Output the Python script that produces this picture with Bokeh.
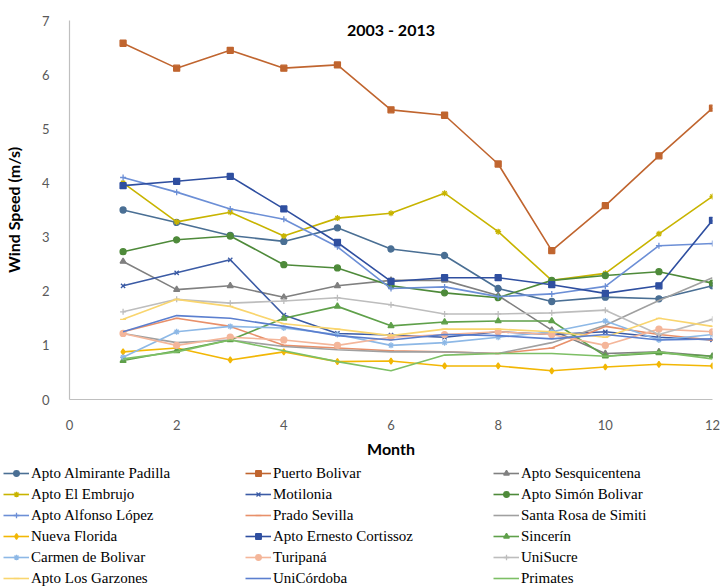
from bokeh.plotting import figure
from bokeh.models import Legend, LegendItem, Label, FixedTicker, ColumnDataSource
from bokeh.layouts import column
from bokeh.embed import file_html
from bokeh.resources import INLINE

months = [1, 2, 3, 4, 5, 6, 7, 8, 9, 10, 11, 12]

almirante = [3.50, 3.27, 3.03, 2.92, 3.17, 2.78, 2.66, 2.05, 1.81, 1.89, 1.86, 2.10]
puerto = [6.58, 6.12, 6.45, 6.12, 6.18, 5.35, 5.25, 4.35, 2.75, 3.58, 4.50, 5.38]
sesqui = [2.55, 2.03, 2.10, 1.89, 2.10, 2.20, 2.20, 1.92, 1.28, 0.85, 0.88, 0.80]
embrujo = [4.00, 3.28, 3.46, 3.02, 3.35, 3.44, 3.81, 3.10, 2.20, 2.33, 3.06, 3.75]
motilonia = [2.10, 2.34, 2.58, 1.56, 1.22, 1.19, 1.15, 1.25, 1.20, 1.25, 1.15, 1.10]
simon = [2.73, 2.95, 3.02, 2.49, 2.43, 2.10, 1.97, 1.88, 2.20, 2.29, 2.36, 2.15]
alfonso = [4.10, 3.83, 3.52, 3.33, 2.82, 2.05, 2.08, 1.90, 1.95, 2.09, 2.84, 2.88]
prado = [1.25, 1.50, 1.35, 1.00, 0.95, 0.90, 0.88, 0.85, 0.95, 1.35, 1.20, 1.10]
santarosa = [1.22, 1.05, 1.10, 0.98, 0.92, 0.88, 0.88, 0.85, 1.05, 1.37, 1.83, 2.25]
nuevaflorida = [0.88, 0.95, 0.73, 0.88, 0.70, 0.71, 0.62, 0.62, 0.53, 0.60, 0.65, 0.62]
ernesto = [3.95, 4.03, 4.12, 3.52, 2.90, 2.18, 2.25, 2.25, 2.12, 1.96, 2.10, 3.31]
sincerin = [0.72, 0.90, 1.10, 1.50, 1.72, 1.36, 1.43, 1.45, 1.45, 0.80, 0.86, 0.80]
carmen = [0.78, 1.25, 1.35, 1.32, 1.20, 1.00, 1.05, 1.15, 1.25, 1.45, 1.10, 1.20]
turipana = [1.22, 1.00, 1.15, 1.10, 1.00, 1.15, 1.20, 1.25, 1.20, 1.00, 1.30, 1.25]
unisucre = [1.62, 1.85, 1.78, 1.82, 1.88, 1.75, 1.58, 1.58, 1.60, 1.65, 1.20, 1.48]
garzones = [1.48, 1.85, 1.72, 1.40, 1.30, 1.18, 1.30, 1.30, 1.25, 1.15, 1.50, 1.35]
unicordoba = [1.25, 1.55, 1.50, 1.35, 1.18, 1.10, 1.20, 1.18, 1.12, 1.20, 1.10, 1.12]
primates = [0.75, 0.88, 1.10, 0.90, 0.70, 0.53, 0.82, 0.85, 0.85, 0.80, 0.88, 0.75]

names = ["Apto Almirante Padilla", "Puerto Bolivar", "Apto Sesquicentena",
         "Apto El Embrujo", "Motilonia", "Apto Simón Bolivar",
         "Apto Alfonso López", "Prado Sevilla", "Santa Rosa de Simiti",
         "Nueva Florida", "Apto Ernesto Cortissoz", "Sincerín",
         "Carmen de Bolivar", "Turipaná", "UniSucre",
         "Apto Los Garzones", "UniCórdoba", "Primates"]
series = [almirante, puerto, sesqui, embrujo, motilonia, simon, alfonso, prado,
          santarosa, nuevaflorida, ernesto, sincerin, carmen, turipana, unisucre,
          garzones, unicordoba, primates]

colors = ["#4A6F94", "#C0652F", "#808080", "#C8B400", "#3B5BA5", "#4E8A3A",
          "#6C8FD6", "#E8906A", "#A0A0A0", "#F2B705", "#2F4FA0", "#5FA04A",
          "#8DB8E6", "#F4B69A", "#BDBDBD", "#F9D56E", "#5B7FCF", "#7DBF65"]
markers = ["circle", "square", "triangle", "asterisk", "x", "circle",
           "cross", "dash", None, "diamond", "square", "triangle",
           "asterisk", "circle", "cross", "dash", None, None]

p = figure(width=724, height=460, output_backend="svg", toolbar_location=None,
           x_range=(0, 12), y_range=(0, 7),
           min_border_left=63, min_border_right=12, min_border_top=20,
           min_border_bottom=58)
p.frame_align = False
p.outline_line_color = None
p.xgrid.grid_line_color = None
p.ygrid.grid_line_color = None
p.background_fill_color = "white"

# legend strip below the chart (swatch renderers sit outside its visible range)
lg_fig = figure(width=724, height=128, output_backend="svg", toolbar_location=None,
                x_range=(0, 1), y_range=(0, 1), x_axis_location=None,
                y_axis_location=None, min_border=0)
lg_fig.frame_align = False
lg_fig.outline_line_color = None
lg_fig.xgrid.grid_line_color = None
lg_fig.ygrid.grid_line_color = None

items = []
for name, vals, col, mk in zip(names, series, colors, markers):
    src = ColumnDataSource(dict(x=months, y=vals))
    p.line("x", "y", source=src, line_color=col, line_width=1.6)
    if mk is not None:
        p.scatter("x", "y", source=src, marker=mk, size=6,
                  line_color=col, fill_color=col, line_width=1.3)
    key_src = ColumnDataSource(dict(x=[-5.0, -4.0], y=[-5.0, -4.0]))
    rs = [lg_fig.line("x", "y", source=key_src, line_color=col, line_width=1.6)]
    if mk is not None:
        rs.append(lg_fig.scatter("x", "y", source=key_src, marker=mk, size=6,
                                 line_color=col, fill_color=col, line_width=1.3))
    items.append(LegendItem(label=name, renderers=rs))

for ax in (p.xaxis[0], p.yaxis[0]):
    ax.axis_line_color = "#BFBFBF"
    ax.axis_line_width = 1.2
    ax.major_tick_line_color = None
    ax.minor_tick_line_color = None
    ax.major_label_text_color = "#595959"
    ax.major_label_text_font = "Lato"
    ax.major_label_text_font_size = "13px"
    ax.axis_label_text_font = "Lato"
    ax.axis_label_text_font_style = "bold"
    ax.axis_label_text_color = "#000000"
    ax.axis_label_text_font_size = "16px"

p.xaxis.ticker = FixedTicker(ticks=[0, 2, 4, 6, 8, 10, 12])
p.yaxis.ticker = FixedTicker(ticks=[0, 1, 2, 3, 4, 5, 6, 7])
p.xaxis.axis_label = "Month"
p.yaxis.axis_label = "Wind Speed (m/s)"
p.xaxis.major_label_standoff = 14
p.xaxis.axis_label_standoff = 6
p.yaxis.major_label_standoff = 14
p.yaxis.axis_label_standoff = 16

p.add_layout(Label(x=6, y=6.84, text="2003 - 2013", text_align="center",
                   text_baseline="middle", text_font="Lato",
                   text_font_style="bold", text_font_size="16px",
                   text_color="#000000"))

col_x = [3, 245, 493]
for c in range(3):
    its = [items[r * 3 + c] for r in range(6)]
    lg = Legend(items=its, location=(col_x[c], 1), orientation="vertical",
                background_fill_alpha=0, border_line_color=None,
                padding=0, margin=0, spacing=3, label_height=18,
                glyph_width=26, glyph_height=14, label_standoff=2,
                label_text_font="Liberation Serif", label_text_font_size="15px",
                label_text_color="#000000")
    lg_fig.add_layout(lg)

open("out.html", "w").write(file_html(column(p, lg_fig), INLINE))
